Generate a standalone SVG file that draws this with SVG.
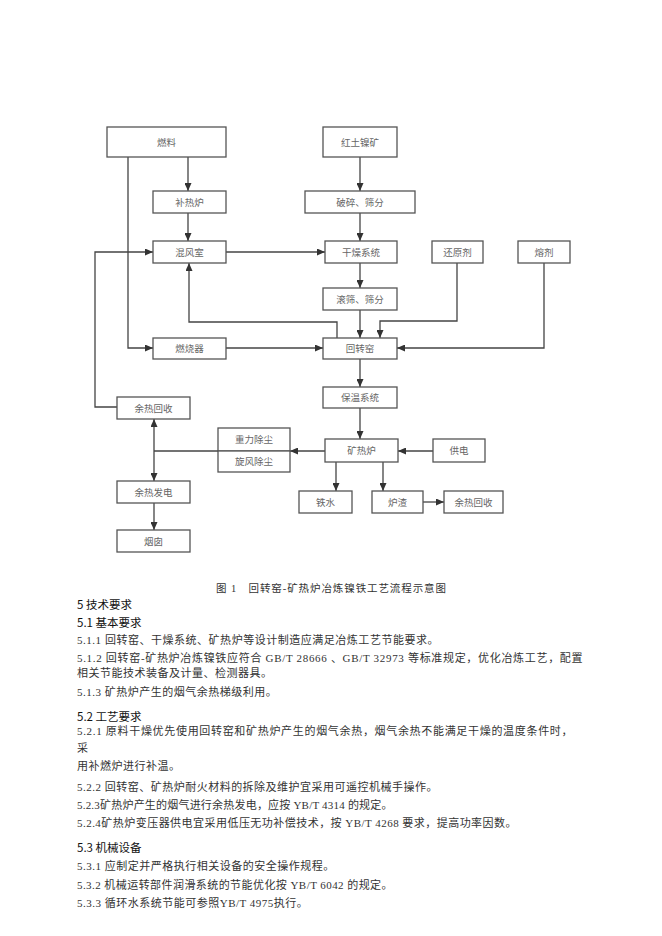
<svg xmlns="http://www.w3.org/2000/svg" width="662" height="936" viewBox="0 0 662 936">
<style>
.bx{fill:#fff;stroke:#555;stroke-width:1.3}
.lb{font-family:"Noto Sans CJK SC","Noto Sans",sans-serif;font-size:9.5px;fill:#666;text-anchor:middle}
.cn{fill:none;stroke:#444;stroke-width:1.3}
.bd{font-family:"Liberation Serif","Noto Sans CJK SC",serif;font-size:11px;fill:#333;letter-spacing:0.5px}
.hd{font-family:"Noto Sans CJK SC","Noto Sans",sans-serif;font-size:11.5px;fill:#111}
.cap{font-family:"Liberation Serif","Noto Sans CJK SC",serif;font-size:10.5px;fill:#333}
</style>
<defs>
<marker id="a" markerUnits="userSpaceOnUse" markerWidth="8" markerHeight="7" refX="8" refY="3.5" orient="auto"><path d="M0,0 L8,3.5 L0,7 z" fill="#333"/></marker>
</defs>
<rect width="662" height="936" fill="#fff"/>
<g id="connectors">
<path class="cn" d="M188,157 V191" marker-end="url(#a)"/>
<path class="cn" d="M188,213 V241" marker-end="url(#a)"/>
<path class="cn" d="M226,252 H325" marker-end="url(#a)"/>
<path class="cn" d="M360,157 V191" marker-end="url(#a)"/>
<path class="cn" d="M360,213 V241" marker-end="url(#a)"/>
<path class="cn" d="M360,263 V288" marker-end="url(#a)"/>
<path class="cn" d="M360,310 V338" marker-end="url(#a)"/>
<path class="cn" d="M360,359 V387" marker-end="url(#a)"/>
<path class="cn" d="M360,408 V439" marker-end="url(#a)"/>
<path class="cn" d="M128,157 V348 H153" marker-end="url(#a)"/>
<path class="cn" d="M226,348 H323" marker-end="url(#a)"/>
<path class="cn" d="M337,338 V322 H189 V263" marker-end="url(#a)"/>
<path class="cn" d="M457,263 V321 H380 V338" marker-end="url(#a)"/>
<path class="cn" d="M544,263 V348 H397" marker-end="url(#a)"/>
<path class="cn" d="M117,407 H95 V252 H153" marker-end="url(#a)"/>
<path class="cn" d="M433,451 H398" marker-end="url(#a)"/>
<path class="cn" d="M325,451 H290" marker-end="url(#a)"/>
<path class="cn" d="M218,451 H154"/>
<path class="cn" d="M154,451 V419" marker-end="url(#a)"/>
<path class="cn" d="M154,451 V481" marker-end="url(#a)"/>
<path class="cn" d="M154,503 V530" marker-end="url(#a)"/>
<path class="cn" d="M336,462 V491" marker-end="url(#a)"/>
<path class="cn" d="M383,462 V491" marker-end="url(#a)"/>
<path class="cn" d="M423,502 H444" marker-end="url(#a)"/>
</g>
<g id="fuel"><rect class="bx" x="107" y="127" width="119" height="30"/><text class="lb" x="166.5" y="145.5">燃料</text></g>
<g id="ore"><rect class="bx" x="323" y="127" width="74" height="30"/><text class="lb" x="360" y="145.5">红土镍矿</text></g>
<g id="heater"><rect class="bx" x="153" y="191" width="73" height="22"/><text class="lb" x="189.5" y="205.5">补热炉</text></g>
<g id="crush"><rect class="bx" x="305" y="191" width="110" height="22"/><text class="lb" x="360" y="205.5">破碎、筛分</text></g>
<g id="mix"><rect class="bx" x="153" y="241" width="73" height="22"/><text class="lb" x="189.5" y="255.5">混风室</text></g>
<g id="dry"><rect class="bx" x="325" y="241" width="72" height="22"/><text class="lb" x="361" y="255.5">干燥系统</text></g>
<g id="reductant"><rect class="bx" x="432" y="241" width="51" height="22"/><text class="lb" x="457.5" y="255.5">还原剂</text></g>
<g id="flux"><rect class="bx" x="518" y="241" width="52" height="22"/><text class="lb" x="544" y="255.5">熔剂</text></g>
<g id="screen"><rect class="bx" x="323" y="288" width="74" height="22"/><text class="lb" x="360" y="302.5">滚筛、筛分</text></g>
<g id="burner"><rect class="bx" x="153" y="338" width="73" height="21"/><text class="lb" x="189.5" y="352">燃烧器</text></g>
<g id="kiln"><rect class="bx" x="323" y="338" width="74" height="21"/><text class="lb" x="360" y="352">回转窑</text></g>
<g id="insul"><rect class="bx" x="323" y="387" width="74" height="21"/><text class="lb" x="360" y="401">保温系统</text></g>
<g id="heatrec1"><rect class="bx" x="117" y="397" width="73" height="22"/><text class="lb" x="153.5" y="411.5">余热回收</text></g>
<g id="dust"><rect class="bx" x="218" y="428" width="72" height="23"/><text class="lb" x="254" y="443">重力除尘</text><rect class="bx" x="218" y="451" width="72" height="21"/><text class="lb" x="254" y="465">旋风除尘</text></g>
<g id="furnace"><rect class="bx" x="325" y="439" width="73" height="23"/><text class="lb" x="361.5" y="454">矿热炉</text></g>
<g id="power"><rect class="bx" x="433" y="439" width="52" height="23"/><text class="lb" x="459" y="454">供电</text></g>
<g id="gen"><rect class="bx" x="117" y="481" width="73" height="22"/><text class="lb" x="153.5" y="495.5">余热发电</text></g>
<g id="iron"><rect class="bx" x="299" y="491" width="53" height="22"/><text class="lb" x="325.5" y="505.5">铁水</text></g>
<g id="slag"><rect class="bx" x="372" y="491" width="51" height="22"/><text class="lb" x="397.5" y="505.5">炉渣</text></g>
<g id="heatrec2"><rect class="bx" x="444" y="491" width="59" height="22"/><text class="lb" x="473.5" y="505.5">余热回收</text></g>
<g id="chimney"><rect class="bx" x="117" y="530" width="73" height="22"/><text class="lb" x="153.5" y="544.5">烟囱</text></g>
<g id="text">
<text class="cap" x="216" y="592" textLength="230" lengthAdjust="spacing">图 1　回转窑-矿热炉冶炼镍铁工艺流程示意图</text>
<text class="hd" x="77" y="609">5 技术要求</text>
<text class="hd" x="77" y="627">5.1 基本要求</text>
<text class="bd" x="77" y="644" textLength="362" lengthAdjust="spacing">5.1.1 回转窑、干燥系统、矿热炉等设计制造应满足冶炼工艺节能要求。</text>
<text class="bd" x="77" y="662" textLength="506" lengthAdjust="spacing">5.1.2 回转窑-矿热炉冶炼镍铁应符合 GB/T 28666 、GB/T 32973 等标准规定，优化冶炼工艺，配置</text>
<text class="bd" x="77" y="677">相关节能技术装备及计量、检测器具。</text>
<text class="bd" x="77" y="696">5.1.3  矿热炉产生的烟气余热梯级利用。</text>
<text class="hd" x="77" y="721">5.2 工艺要求</text>
<text class="bd" x="77" y="735" textLength="496" lengthAdjust="spacing">5.2.1  原料干燥优先使用回转窑和矿热炉产生的烟气余热，烟气余热不能满足干燥的温度条件时，</text>
<text class="bd" x="77" y="752">采</text>
<text class="bd" x="77" y="770">用补燃炉进行补温。</text>
<text class="bd" x="77" y="791" textLength="361" lengthAdjust="spacing">5.2.2 回转窑、矿热炉耐火材料的拆除及维护宜采用可遥控机械手操作。</text>
<text class="bd" x="77" y="809" textLength="316" lengthAdjust="spacing">5.2.3矿热炉产生的烟气进行余热发电，应按 YB/T 4314 的规定。</text>
<text class="bd" x="77" y="827" textLength="440" lengthAdjust="spacing">5.2.4矿热炉变压器供电宜采用低压无功补偿技术，按 YB/T 4268 要求，提高功率因数。</text>
<text class="hd" x="77" y="852">5.3 机械设备</text>
<text class="bd" x="77" y="870">5.3.1 应制定并严格执行相关设备的安全操作规程。</text>
<text class="bd" x="77" y="889" textLength="316" lengthAdjust="spacing">5.3.2 机械运转部件润滑系统的节能优化按 YB/T 6042 的规定。</text>
<text class="bd" x="77" y="907">5.3.3 循环水系统节能可参照YB/T 4975执行。</text>
</g>
</svg>
